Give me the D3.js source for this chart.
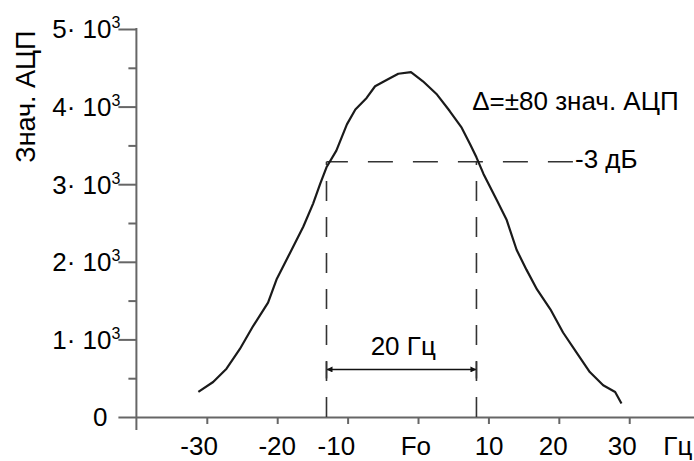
<!DOCTYPE html>
<html>
<head>
<meta charset="utf-8">
<script src="https://cdn.jsdelivr.net/npm/d3@7"></script>
<style>
  body { margin: 0; background: #fff; }
  svg { display: block; font-family: "Liberation Sans", Arial, sans-serif; }
  .axis path, .axis line { stroke: #666; stroke-width: 2; }
</style>
</head>
<body>
<div id="chart"></div>
<script>
// АЦП response around Fo, -3 dB bandwidth

// curve: frequency offset (Hz) and ADC value
const freqHz = [-31.2, -29.1, -27.2, -25.3, -23.4, -22.2, -21.3, -20.1, -18.2, -16.3,
  -14.9, -13.9, -13.0, -11.6, -10.1, -8.9, -7.3, -6.1, -4.4, -2.8,
  -1.0, 0.7, 2.7, 4.5, 6.2, 7.4, 8.3, 9.3, 11.2, 12.6,
  14.0, 15.4, 16.9, 18.8, 20.6, 22.5, 24.4, 26.3, 28.0, 28.9];
const adcValue = [323, 451, 622, 877, 1175, 1345, 1473, 1771, 2111, 2452,
  2750, 3005, 3218, 3432, 3771, 3963, 4112, 4262, 4346, 4423,
  4444, 4326, 4155, 3943, 3729, 3516, 3346, 3133, 2793, 2538,
  2155, 1899, 1644, 1388, 1089, 834, 579, 409, 323, 175];

const xTicks = [-30, -20, -10, 0, 10, 20, 30];
const xLabelText = ['-30', '-20', '-10', 'Fo', '10', '20', '30', 'Гц'];
const xLabelAt = [-31.1, -20.0, -11.6, -0.3, 10.1, 19.2, 29.0, 36.9];

const yTicks = [0, 1000, 2000, 3000, 4000, 5000];
const yMinorTicks = [500, 1500, 2500, 3500, 4500];
const yMantissa = ['0', '1', '2', '3', '4', '5'];

const bandEdges = [-13.0, 8.3];     // Hz, where the curve meets -3 dB
const levelMinus3dB = 3290;
const levelLineEnd = 22.0;          // Hz, right end of the -3 dB dashes
const arrowLevel = 613;

const width = 694;
const height = 461;

const x = d3.scaleLinear().domain([-40, 39.2]).range([136.4, 694]);
const y = d3.scaleLinear().domain([0, 5000]).range([417, 29]);

const svg = d3.select('#chart').append('svg')
  .attr('width', width)
  .attr('height', height);

////////////////////////////////////////////////////////////////////////////////
// Axes
svg.append('line')
  .attr('x1', x(-40)).attr('x2', x(-40))
  .attr('y1', y(5000) - 1).attr('y2', y(0) + 13)
  .attr('stroke', '#666').attr('stroke-width', 2);

svg.append('g')
  .attr('class', 'axis')
  .attr('transform', `translate(${x(-40)},0)`)
  .call(d3.axisLeft(y).tickValues(yTicks).tickSize(18).tickFormat(''))
  .call(g => g.select('.domain').remove());

svg.append('g')
  .attr('class', 'axis')
  .attr('transform', `translate(${x(-40)},0)`)
  .call(d3.axisLeft(y).tickValues(yMinorTicks).tickSize(8).tickFormat(''))
  .call(g => g.select('.domain').remove());

svg.append('g')
  .attr('class', 'axis')
  .attr('transform', `translate(0,${y(0)})`)
  .call(d3.axisBottom(x).tickValues(xTicks).tickSize(7).tickSizeOuter(0).tickFormat(''));

// y labels  "N· 10³"
const yLab = svg.append('g')
  .attr('font-size', 26)
  .attr('fill', '#000');

yTicks.forEach((v, i) => {
  const t = yLab.append('text')
    .attr('text-anchor', 'end')
    .attr('y', y(v))
    .attr('dy', '0.36em');
  if (v === 0) {
    t.attr('x', x(-40) - 29).text(yMantissa[i]);
  } else {
    t.attr('x', x(-40) - 16);
    t.append('tspan').text(`${yMantissa[i]}· 10`);
    t.append('tspan').attr('font-size', 16).attr('dy', -10).text('3');
  }
});

svg.append('text')
  .attr('transform', `translate(35,${(y(5000) + y(3000)) / 2 - 10}) rotate(-90)`)
  .attr('text-anchor', 'middle')
  .attr('font-size', 27)
  .text('Знач. АЦП');

// x labels
svg.append('g')
  .attr('font-size', 26)
  .selectAll('text')
  .data(xLabelText)
  .join('text')
    .attr('x', (d, i) => x(xLabelAt[i]))
    .attr('y', y(0) + 38)
    .attr('text-anchor', 'middle')
    .text(d => d);

////////////////////////////////////////////////////////////////////////////////
// -3 dB guides
svg.append('line')
  .attr('x1', x(levelLineEnd)).attr('x2', x(bandEdges[0]))
  .attr('y1', y(levelMinus3dB)).attr('y2', y(levelMinus3dB))
  .attr('stroke', '#333').attr('stroke-width', 1.6)
  .attr('stroke-dasharray', '25,20');

svg.selectAll('.edge')
  .data(bandEdges)
  .join('line')
    .attr('class', 'edge')
    .attr('x1', d => x(d)).attr('x2', d => x(d))
    .attr('y1', y(0)).attr('y2', y(levelMinus3dB))
    .attr('stroke', '#333').attr('stroke-width', 1.6)
    .attr('stroke-dasharray', '20,16');

// dimension arrow
const defs = svg.append('defs');
defs.append('marker')
  .attr('id', 'head')
  .attr('viewBox', '0 0 10 10')
  .attr('refX', 10).attr('refY', 5)
  .attr('markerWidth', 9).attr('markerHeight', 6)
  .attr('markerUnits', 'userSpaceOnUse')
  .attr('orient', 'auto-start-reverse')
  .append('path')
    .attr('d', 'M0,0L10,5L0,10z')
    .attr('fill', '#111');

svg.append('line')
  .attr('x1', x(bandEdges[0])).attr('x2', x(bandEdges[1]))
  .attr('y1', y(arrowLevel)).attr('y2', y(arrowLevel))
  .attr('stroke', '#111').attr('stroke-width', 1.6)
  .attr('marker-start', 'url(#head)')
  .attr('marker-end', 'url(#head)');

svg.selectAll('.bar')
  .data(bandEdges)
  .join('line')
    .attr('class', 'bar')
    .attr('x1', d => x(d)).attr('x2', d => x(d))
    .attr('y1', y(arrowLevel) - 8).attr('y2', y(arrowLevel) + 9)
    .attr('stroke', '#333').attr('stroke-width', 1.6);

////////////////////////////////////////////////////////////////////////////////
// Curve
const line = d3.line()
  .x((d, i) => x(freqHz[i]))
  .y(d => y(d));

svg.append('path')
  .datum(adcValue)
  .attr('d', line)
  .attr('fill', 'none')
  .attr('stroke', '#1a1a1a')
  .attr('stroke-width', 2.2)
  .attr('stroke-linejoin', 'round');

////////////////////////////////////////////////////////////////////////////////
// Annotations
svg.append('text')
  .attr('x', x(7.7)).attr('y', y(3950))
  .attr('font-size', 26)
  .text('Δ=±80 знач. АЦП');

svg.append('text')
  .attr('x', x(22.3)).attr('y', y(3205))
  .attr('font-size', 26)
  .text('-3 дБ');

svg.append('text')
  .attr('x', x(-2.1)).attr('y', y(795))
  .attr('text-anchor', 'middle')
  .attr('font-size', 26)
  .text('20 Гц');
</script>
</body>
</html>
